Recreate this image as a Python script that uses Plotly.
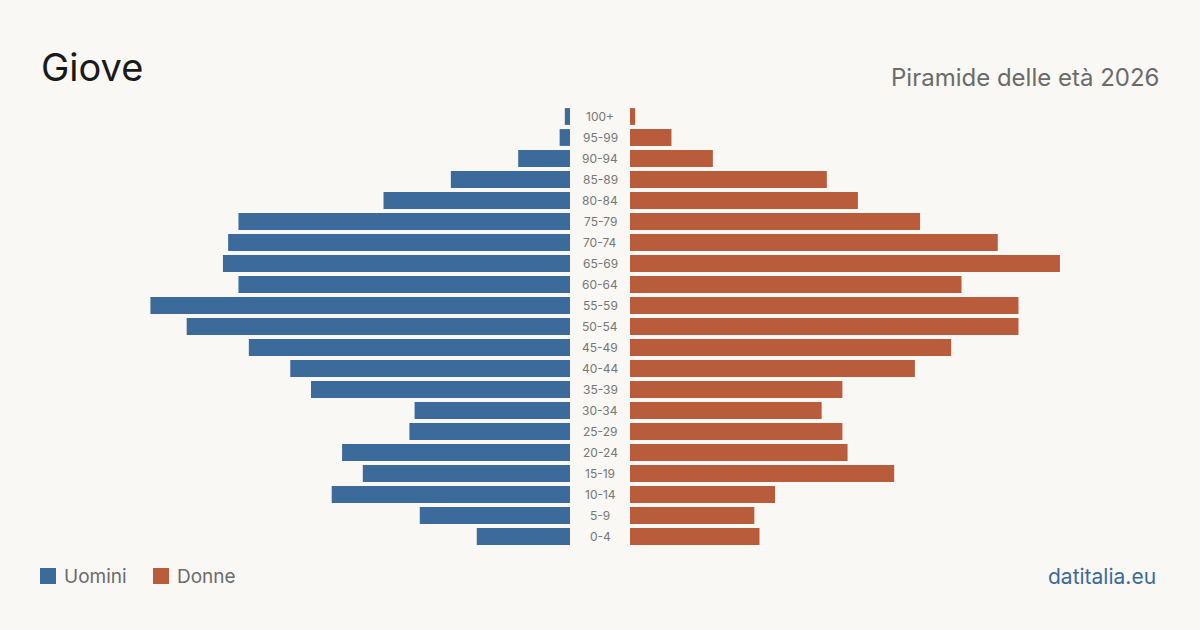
import plotly.graph_objects as go

age_groups = ["0-4", "5-9", "10-14", "15-19", "20-24", "25-29", "30-34", "35-39",
              "40-44", "45-49", "50-54", "55-59", "60-64", "65-69", "70-74",
              "75-79", "80-84", "85-89", "90-94", "95-99", "100+"]
men = [18, 29, 46, 40, 44, 31, 30, 50, 54, 62, 74, 81, 64, 67, 66, 64, 36, 23, 10, 2, 1]
women = [25, 24, 28, 51, 42, 41, 37, 41, 55, 62, 75, 75, 64, 83, 71, 56, 44, 38, 16, 8, 1]

BLUE = "#3b6a9b"
ORANGE = "#b95c3c"
BG = "#f9f8f4"
FONT = "Inter, Roboto, sans-serif"

W, H = 1200, 630
T, B = 106, 83
PH = H - T - B
xmax = 570 / 5.18


def py(p):
    """pixel y (from top) -> paper y"""
    return (H - B - p) / PH


def px(p):
    return p / W


fig = go.Figure()
fig.add_trace(go.Bar(y=age_groups, x=men, orientation="h", marker_color=BLUE,
                     marker_line_width=0,
                     xaxis="x", yaxis="y", name="Uomini", showlegend=False,
                     hoverinfo="x+y"))
fig.add_trace(go.Bar(y=age_groups, x=women, orientation="h", marker_color=ORANGE,
                     marker_line_width=0,
                     xaxis="x2", yaxis="y", name="Donne", showlegend=False,
                     hoverinfo="x+y"))

for g in age_groups:
    fig.add_annotation(x=0.5, xref="paper", y=g, yref="y", text=g, showarrow=False,
                       font=dict(family=FONT, size=12, color="#777777"),
                       xanchor="center", yanchor="middle")

# Title and subtitle
fig.add_annotation(x=px(39), y=py(67), xref="paper", yref="paper", text="Giove",
                   showarrow=False, xanchor="left", yanchor="middle",
                   font=dict(family=FONT, size=38, color="#1a1a1a"))
fig.add_annotation(x=px(1161), y=py(77), xref="paper", yref="paper",
                   text="Piramide delle età 2026", showarrow=False,
                   xanchor="right", yanchor="middle",
                   font=dict(family=FONT, size=24, color="#6b6b6b"))

# Legend
for x0, col, lab in [(40, BLUE, "Uomini"), (153, ORANGE, "Donne")]:
    fig.add_shape(type="rect", xref="paper", yref="paper",
                  x0=px(x0), x1=px(x0 + 16), y0=py(584), y1=py(568),
                  fillcolor=col, line_width=0)
    fig.add_annotation(x=px(x0 + 22), y=py(576), xref="paper", yref="paper",
                       text=lab, showarrow=False, xanchor="left", yanchor="middle",
                       font=dict(family=FONT, size=19, color="#6b6b6b"))

fig.add_annotation(x=px(1158), y=py(576), xref="paper", yref="paper",
                   text="datitalia.eu", showarrow=False, xanchor="right", yanchor="middle",
                   font=dict(family=FONT, size=21, color=BLUE))

fig.update_layout(
    width=W, height=H,
    margin=dict(l=0, r=0, t=T, b=B),
    paper_bgcolor=BG, plot_bgcolor=BG,
    bargap=0.2,
    showlegend=False,
    xaxis=dict(domain=[0, 570 / W], range=[xmax, 0], visible=False, fixedrange=True),
    xaxis2=dict(domain=[630 / W, 1], range=[0, xmax], visible=False, fixedrange=True),
    yaxis=dict(categoryorder="array", categoryarray=age_groups, range=[-0.5, 20.5],
               visible=False, fixedrange=True),
)

fig.write_html("out.html", config={"displayModeBar": False})
